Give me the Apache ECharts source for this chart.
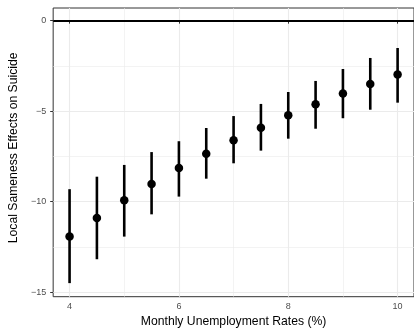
<!DOCTYPE html>
<html>
<head>
<meta charset="utf-8">
<script src="https://cdn.jsdelivr.net/npm/echarts@6/dist/echarts.min.js"></script>
<style>
  html, body { margin: 0; padding: 0; background: #ffffff; }
  #chart { width: 414px; height: 333px; }
</style>
</head>
<body>
<div id="chart"></div>
<script>
// Monthly unemployment rate (%) at which each effect is evaluated
const rates = [4, 4.5, 5, 5.5, 6, 6.5, 7, 7.5, 8, 8.5, 9, 9.5, 10];
// Point estimates and 95% interval bounds
const estimates = [-11.93, -10.90, -9.92, -9.02, -8.14, -7.35, -6.61, -5.91, -5.23, -4.62, -4.03, -3.50, -2.98];
const lower     = [-14.50, -13.18, -11.93, -10.70, -9.72, -8.73, -7.88, -7.18, -6.52, -5.97, -5.39, -4.92, -4.53];
const upper     = [-9.31, -8.62, -7.97, -7.26, -6.66, -5.93, -5.27, -4.60, -3.94, -3.33, -2.67, -2.06, -1.51];

// Tick / grid positions
const xMajorTicks = [4, 6, 8, 10];
const xMinorTicks = [5, 7, 9];
const yMajorTicks = [-15, -10, -5, 0];
const yMinorTicks = [-12.5, -7.5, -2.5];
const referenceLevel = 0;

const pointData = rates.map((r, i) => [r, estimates[i]]);
const rangeData = rates.map((r, i) => [r, lower[i], upper[i]]);

const chart = echarts.init(document.getElementById('chart'), null, { renderer: 'canvas' });

const gridColor = '#ebebeb';
const tickColor = '#333333';
const labelColor = '#4d4d4d';
const fontFamily = '"Liberation Sans", Arial, Helvetica, sans-serif';
const withMinus = v => String(v).replace('-', '\u2212');

chart.setOption({
  animation: false,
  backgroundColor: '#ffffff',
  grid: {
    left: 52, top: 8, width: 364, height: 288.7,
    show: true, borderColor: '#333333', borderWidth: 1, backgroundColor: 'transparent'
  },
  xAxis: [
    {
      type: 'value', min: 3.7, max: 10.3, position: 'bottom',
      name: 'Monthly Unemployment Rates (%)', nameLocation: 'middle', nameGap: 17,
      nameTextStyle: { color: '#000000', fontSize: 12.2, fontFamily: fontFamily },
      axisLine: { show: false },
      axisTick: { show: true, customValues: xMajorTicks, length: 3, lineStyle: { color: tickColor, width: 1 } },
      axisLabel: { customValues: xMajorTicks, color: labelColor, fontSize: 9, margin: 5, fontFamily: fontFamily, formatter: withMinus },
      splitLine: { show: true, lineStyle: { color: gridColor, width: 1.1 } }
    },
    {
      type: 'value', min: 3.7, max: 10.3, position: 'top',
      axisLine: { show: false },
      axisTick: { show: false, customValues: xMinorTicks },
      axisLabel: { show: false, customValues: xMinorTicks },
      splitLine: { show: true, lineStyle: { color: gridColor, width: 0.6 } }
    }
  ],
  yAxis: [
    {
      type: 'value', min: -15.25, max: 0.7, position: 'left',
      name: 'Local Sameness Effects on Suicide', nameLocation: 'middle', nameGap: 28, nameRotate: 90,
      nameTextStyle: { color: '#000000', fontSize: 12.2, fontFamily: fontFamily, padding: [0, 0, 0, 9] },
      axisLine: { show: false },
      axisTick: { show: true, customValues: yMajorTicks, length: 3, lineStyle: { color: tickColor, width: 1 } },
      axisLabel: { customValues: yMajorTicks, color: labelColor, fontSize: 9, margin: 7, fontFamily: fontFamily, formatter: withMinus },
      splitLine: { show: true, lineStyle: { color: gridColor, width: 1.1 } }
    },
    {
      type: 'value', min: -15.25, max: 0.7, position: 'right',
      axisLine: { show: false },
      axisTick: { show: false, customValues: yMinorTicks },
      axisLabel: { show: false, customValues: yMinorTicks },
      splitLine: { show: true, lineStyle: { color: gridColor, width: 0.6 } }
    }
  ],
  series: [
    {
      type: 'custom',
      xAxisIndex: 0, yAxisIndex: 0,
      data: rangeData,
      encode: { x: 0, y: [1, 2] },
      renderItem: function (params, api) {
        const x = api.value(0);
        const lo = api.coord([x, api.value(1)]);
        const hi = api.coord([x, api.value(2)]);
        return {
          type: 'line',
          shape: { x1: lo[0], y1: lo[1], x2: hi[0], y2: hi[1] },
          style: { stroke: '#000000', lineWidth: 2.6 }
        };
      },
      z: 3
    },
    {
      type: 'scatter',
      xAxisIndex: 0, yAxisIndex: 0,
      data: pointData,
      symbol: 'circle',
      symbolSize: 8.5,
      itemStyle: { color: '#000000', opacity: 1 },
      z: 4,
      markLine: {
        silent: true,
        symbol: ['none', 'none'],
        label: { show: false },
        lineStyle: { color: '#000000', width: 2, type: 'solid' },
        data: [{ yAxis: referenceLevel }]
      }
    }
  ]
});
</script>
</body>
</html>
